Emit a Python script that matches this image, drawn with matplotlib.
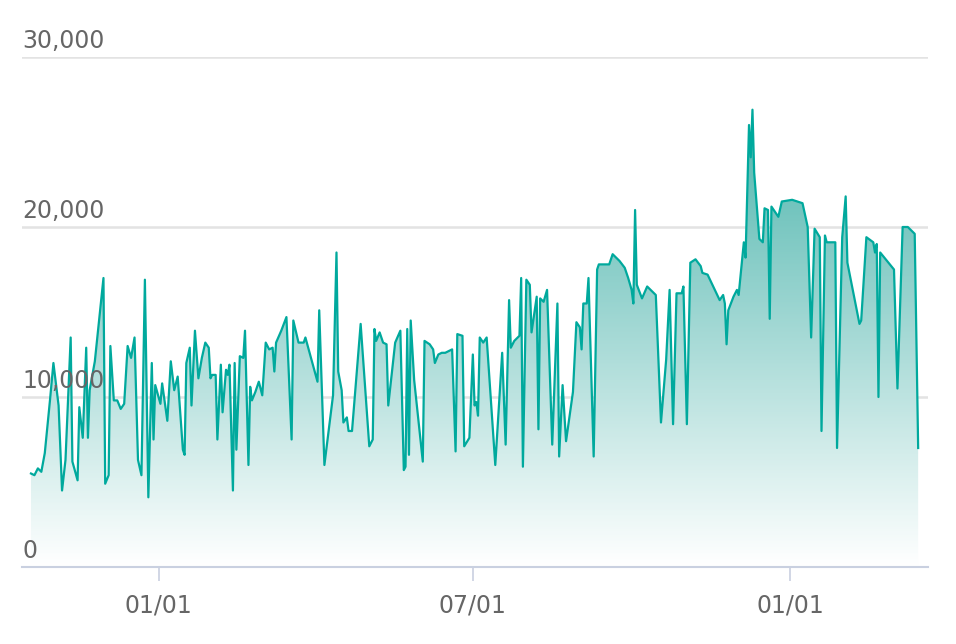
import numpy as np
import pandas as pd
import matplotlib
matplotlib.use("Agg")
import matplotlib.pyplot as plt
import matplotlib.dates as mdates
from matplotlib.colors import LinearSegmentedColormap

START = pd.Timestamp("2019-10-19")

# day offset from START, value
days = [0, 2, 4, 6, 8, 11, 13, 16, 18, 20, 23, 24, 27, 28, 30, 32, 33, 34, 37, 42,
        43, 45, 46, 48, 50, 52, 54, 56, 58, 60, 62, 64, 66, 68, 70, 71, 72, 75, 76, 79,
        81, 83, 85, 88, 89, 90, 92, 93, 95, 97, 99, 101, 103, 104, 105, 107, 108, 110, 111, 113,
        114, 115, 117, 118, 119, 121, 123, 124, 126, 127, 128, 130, 132, 134, 136, 138, 140, 141, 142, 145,
        148, 150, 151, 152, 155, 158, 159, 166, 167, 170, 175, 177, 178, 180, 181, 183, 184, 186, 191, 196,
        198, 199, 200, 202, 204, 206, 207, 211, 214, 216, 217, 218, 219, 220, 222, 227, 228, 231, 233, 234,
        236, 238, 240, 244, 246, 247, 250, 251, 254, 256, 257, 258, 259, 260, 262, 264, 269, 273, 275, 277,
        278, 280, 282, 283, 284, 285, 287, 289, 290, 293, 294, 295, 297, 299, 302, 305, 306, 308, 310, 314,
        316, 318, 319, 320, 322, 323, 326, 328, 329, 335, 337, 341, 344, 346, 348, 349, 350, 351, 354, 357,
        362, 365, 368, 370, 372, 374, 377, 378, 380, 382, 385, 388, 389, 392, 399, 401, 402, 403, 404, 407,
        409, 410, 413, 414, 416, 417, 418, 419, 422, 424, 425, 427, 428, 429, 433, 435, 441, 447, 450, 452,
        454, 457, 458, 460, 461, 466, 467, 470, 472, 473, 480, 481, 484, 488, 489, 490, 491, 492, 500, 502,
        505, 508, 512, 514]
values = [5500, 5400, 5800, 5600, 6700, 9800, 12000, 9500, 4500, 6300, 13500, 6200, 5100, 9400, 7600, 12900, 7600, 10400, 12100, 17000,
          4900, 5400, 13000, 9800, 9800, 9300, 9600, 13000, 12300, 13500, 6300, 5400, 16900, 4100, 12000, 7500, 10700, 9600, 10800, 8600,
          12100, 10400, 11200, 6900, 6600, 12000, 12900, 9500, 13900, 11100, 12300, 13200, 12900, 11100, 11300, 11300, 7500, 11900, 9100, 11600,
          11300, 11900, 4500, 12000, 6900, 12400, 12300, 13900, 6000, 10600, 9800, 10300, 10900, 10100, 13200, 12800, 12900, 11500, 13200, 13900,
          14700, 9900, 7500, 14500, 13200, 13200, 13500, 10900, 15100, 6000, 10100, 18500, 11500, 10400, 8500, 8800, 8000, 8000, 14300, 7100,
          7500, 14000, 13300, 13800, 13200, 13100, 9500, 13200, 13900, 5700, 5900, 14000, 6600, 14500, 11000, 6200, 13300, 13100, 12800, 12000,
          12500, 12600, 12600, 12800, 6800, 13700, 13600, 7100, 7600, 12500, 9500, 9700, 8900, 13500, 13200, 13500, 6000, 12600, 7200, 15700,
          12900, 13300, 13500, 13600, 17000, 5900, 16900, 16600, 13800, 15900, 8100, 15800, 15600, 16300, 7200, 15500, 6500, 10700, 7400, 10300,
          14400, 14100, 12800, 15500, 15500, 17000, 6500, 17500, 17800, 17800, 18400, 18000, 17600, 17000, 16300, 15500, 21000, 16600, 15800, 16500,
          16000, 8500, 12200, 16300, 8400, 16100, 16100, 16500, 8400, 17900, 18100, 17700, 17300, 17200, 15700, 16000, 15500, 13100, 15100, 15900,
          16300, 16000, 19100, 18200, 26000, 24100, 26900, 23200, 19300, 19100, 21100, 21000, 14600, 21200, 20600, 21500, 21600, 21400, 20000, 13500,
          19900, 19400, 8000, 19500, 19100, 19100, 7000, 19400, 21800, 17900, 14300, 14500, 19400, 19100, 18500, 19000, 10000, 18500, 17500, 10500,
          20000, 20000, 19600, 7000]

y_ticks = [0, 10000, 20000, 30000]
x_ticks = ["2020-01-01", "2020-07-01", "2021-01-01"]

LINE = "#00a99d"
GRID = "#e3e3e3"
TEXT = "#666666"

dates = START + pd.to_timedelta(days, unit="D")
x = mdates.date2num(dates)
y = np.array(values)

fig = plt.figure(figsize=(9.56, 6.44), dpi=100)
ax = fig.add_axes([22 / 956, 77 / 644, 906 / 956, 510 / 644])

x0 = mdates.date2num(START - pd.Timedelta(days=5.2))
x1 = mdates.date2num(START + pd.Timedelta(days=519.7))
ax.set_xlim(x0, x1)
ax.set_ylim(0, 30000)

# gradient fill under the line
poly = ax.fill_between(x, y, 0, color="none", lw=0)
cmap = LinearSegmentedColormap.from_list("g", [(1, 1, 1, 1), (0.33, 0.72, 0.69, 1)])
grad = np.linspace(0, 1, 256).reshape(-1, 1) * (30000 / 26000)
im = ax.imshow(grad, extent=[x0, x1, 0, 30000], origin="lower", aspect="auto",
               cmap=cmap, vmin=0, vmax=1, zorder=1)
im.set_clip_path(poly.get_paths()[0], transform=ax.transData)

ax.plot(x, y, color=LINE, lw=1.6, zorder=3)

for v in y_ticks[1:]:
    ax.axhline(v, color=GRID, lw=1.8, zorder=0.5)
for v in y_ticks:
    ax.annotate(f"{v:,}", xy=(x0, v), xytext=(0, 3), textcoords="offset points",
                ha="left", va="bottom", fontsize=17, color=TEXT)

for s in ["top", "right", "left"]:
    ax.spines[s].set_visible(False)
ax.spines["bottom"].set_color("#c9d0e0")
ax.spines["bottom"].set_linewidth(1.5)
ax.set_yticks([])
ax.set_xticks(mdates.date2num(pd.to_datetime(x_ticks)))
ax.xaxis.set_major_formatter(mdates.DateFormatter("%m/%d"))
ax.tick_params(axis="x", length=10, width=1.2, color="#c9d0e0", labelsize=17,
               labelcolor=TEXT, pad=9)

fig.savefig("out.png", dpi=100)
